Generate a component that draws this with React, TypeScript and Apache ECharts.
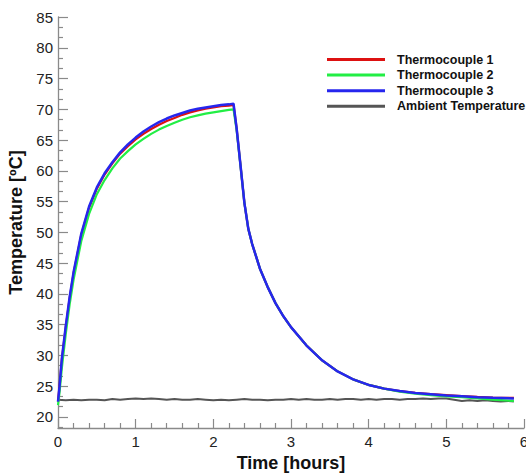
import React, { useEffect, useRef } from "react";
import * as echarts from "echarts";

const timesHours = [
  0, 0.02, 0.05, 0.1, 0.15, 0.2, 0.3, 0.4, 0.5, 0.6, 0.7, 0.8, 0.9, 1.0, 1.1, 1.2, 1.3, 1.4, 1.5, 1.6,
  1.7, 1.8, 1.9, 2.0, 2.1, 2.2, 2.26, 2.3, 2.35, 2.4, 2.45, 2.5, 2.6, 2.7, 2.8, 2.9, 3.0, 3.2, 3.4,
  3.6, 3.8, 4.0, 4.2, 4.4, 4.6, 4.8, 5.0, 5.2, 5.4, 5.6, 5.87,
];

const thermocouple1 = [
  22.5, 25, 29.4, 34.6, 39.3, 43.3, 49.6, 54.0, 57.1, 59.4, 61.2, 62.8, 64.0, 65.1, 66.0, 66.8, 67.5,
  68.1, 68.6, 69.1, 69.5, 69.8, 70.1, 70.3, 70.5, 70.6, 70.7, 66.9, 60.9, 54.8, 50.6, 48.1, 44.1, 41.1,
  38.5, 36.4, 34.6, 31.6, 29.2, 27.4, 26.1, 25.2, 24.6, 24.2, 23.9, 23.7, 23.55, 23.4, 23.25, 23.15,
  23.1,
];

const thermocouple2 = [
  21.9, 24, 28.0, 33.5, 38.3, 42.3, 48.6, 53.0, 56.2, 58.5, 60.4, 62.0, 63.2, 64.3, 65.2, 66.0, 66.7,
  67.3, 67.8, 68.3, 68.7, 69.0, 69.3, 69.5, 69.7, 69.9, 70.0, 66.6, 60.8, 54.8, 50.6, 48.1, 44.1, 41.1,
  38.5, 36.4, 34.6, 31.6, 29.2, 27.4, 26.1, 25.2, 24.6, 24.1, 23.8, 23.55, 23.35, 23.2, 23.0, 22.8,
  22.6,
];

const thermocouple3 = [
  22.5, 25, 29.5, 34.8, 39.5, 43.5, 49.8, 54.2, 57.3, 59.6, 61.4, 63.0, 64.3, 65.4, 66.4, 67.2, 67.9,
  68.5, 69.0, 69.4, 69.8, 70.1, 70.3, 70.5, 70.7, 70.8, 70.9, 66.9, 60.9, 54.8, 50.6, 48.1, 44.1, 41.1,
  38.5, 36.4, 34.6, 31.6, 29.2, 27.4, 26.1, 25.2, 24.6, 24.2, 23.9, 23.7, 23.5, 23.35, 23.2, 23.1,
  23.0,
];

const ambientTimes = [
  0, 0.1, 0.2, 0.3, 0.4, 0.5, 0.6, 0.7, 0.8, 0.9, 1.0, 1.1, 1.2, 1.3, 1.4, 1.5, 1.6, 1.7, 1.8, 1.9,
  2.0, 2.1, 2.2, 2.3, 2.4, 2.5, 2.6, 2.7, 2.8, 2.9, 3.0, 3.1, 3.2, 3.3, 3.4, 3.5, 3.6, 3.7, 3.8, 3.9,
  4.0, 4.1, 4.2, 4.3, 4.4, 4.5, 4.6, 4.7, 4.8, 4.9, 5.0, 5.1, 5.2, 5.3, 5.4, 5.5, 5.6, 5.7, 5.8, 5.87,
];

const ambient = [
  22.8, 22.7, 22.8, 22.7, 22.8, 22.8, 22.7, 22.9, 22.8, 22.9, 23.0, 22.9, 23.0, 22.9, 22.8, 22.9, 22.8,
  22.8, 22.9, 22.8, 22.7, 22.8, 22.7, 22.8, 22.9, 22.8, 22.8, 22.7, 22.8, 22.8, 22.9, 22.8, 22.9, 22.8,
  22.8, 22.9, 22.8, 22.9, 22.9, 22.8, 22.9, 22.8, 22.9, 22.9, 22.8, 22.9, 22.9, 23.0, 22.9, 23.0, 23.0,
  22.8, 22.6, 22.7, 22.6, 22.7, 22.6, 22.5, 22.6, 22.5,
];

const yMajorTicks = [20, 25, 30, 35, 40, 45, 50, 55, 60, 65, 70, 75, 80, 85];
const xMajorTicks = [0, 1, 2, 3, 4, 5, 6];

const seriesNames = ["Thermocouple 1", "Thermocouple 2", "Thermocouple 3", "Ambient Temperature"];
const seriesColors = ["#dd1111", "#22ee44", "#2626ee", "#555555"];

const pair = (xs: number[], ys: number[]) => xs.map((x, i) => [x, ys[i]]);

export default function App() {
  const ref = useRef<HTMLDivElement>(null);
  useEffect(() => {
    if (!ref.current) return;
    const chart = echarts.init(ref.current, null, { renderer: "svg" });
    const font = "'Liberation Sans', Arial, Helvetica, sans-serif";
    const axisGray = "#8a8a8a";
    const yMin = 18.2;
    const yMax = 85;
    const yMinor: number[] = [20 - 5 / 3];
    yMajorTicks.slice(0, -1).forEach((m) => {
      yMinor.push(m + 5 / 3, m + 10 / 3);
    });
    chart.setOption({
      animation: false,
      textStyle: { fontFamily: font },
      grid: { left: 58, top: 17, right: 2, bottom: 45, containLabel: false, outerBoundsMode: "none" },
      legend: {
        orient: "vertical",
        left: 327,
        top: 52,
        padding: 0,
        itemWidth: 58,
        itemHeight: 3,
        itemGap: 0.6,
        icon: "rect",
        data: seriesNames,
        textStyle: {
          fontFamily: font,
          fontWeight: "bold",
          fontSize: 12.5,
          color: "#111",
          lineHeight: 15,
          padding: [0, 0, 0, 7],
        },
      },
      xAxis: {
        type: "value",
        min: 0,
        max: 6,
        interval: 1,
        name: "Time [hours]",
        nameLocation: "middle",
        nameGap: 23,
        nameTextStyle: { fontFamily: font, fontWeight: "bold", fontSize: 18, color: "#111" },
        axisLine: { lineStyle: { color: axisGray, width: 1.3 } },
        axisTick: { inside: true, length: 9, lineStyle: { color: axisGray, width: 1.2 } },
        minorTick: { show: true, splitNumber: 5, length: 5, lineStyle: { color: axisGray, width: 1.2 } },
        axisLabel: { fontFamily: font, fontSize: 15, color: "#222", margin: 6, customValues: xMajorTicks },
        splitLine: { show: false },
      },
      yAxis: [
        {
          type: "value",
          min: yMin,
          max: yMax,
          position: "left",
          name: "Temperature [ºC]",
          nameLocation: "middle",
          nameGap: 32,
          nameTextStyle: { fontFamily: font, fontWeight: "bold", fontSize: 18, color: "#111" },
          axisLine: { show: true, lineStyle: { color: axisGray, width: 1.3 } },
          axisTick: {
            show: true,
            inside: true,
            length: 10,
            customValues: yMajorTicks,
            lineStyle: { color: axisGray, width: 1.2 },
          },
          axisLabel: {
            fontFamily: font,
            fontSize: 15,
            color: "#222",
            margin: 5,
            customValues: yMajorTicks,
          },
          splitLine: { show: false },
        },
        {
          type: "value",
          min: yMin,
          max: yMax,
          position: "left",
          offset: 0,
          axisLine: { show: false },
          axisTick: {
            show: true,
            inside: true,
            length: 5,
            customValues: yMinor,
            lineStyle: { color: axisGray, width: 1.2 },
          },
          axisLabel: { show: false },
          splitLine: { show: false },
        },
      ],
      series: [
        {
          name: seriesNames[0],
          type: "line",
          data: pair(timesHours, thermocouple1),
          showSymbol: false,
          lineStyle: { width: 2.2, color: seriesColors[0] },
          itemStyle: { color: seriesColors[0] },
          z: 3,
        },
        {
          name: seriesNames[1],
          type: "line",
          data: pair(timesHours, thermocouple2),
          showSymbol: false,
          lineStyle: { width: 2.2, color: seriesColors[1] },
          itemStyle: { color: seriesColors[1] },
          z: 3,
        },
        {
          name: seriesNames[2],
          type: "line",
          data: pair(timesHours, thermocouple3),
          showSymbol: false,
          lineStyle: { width: 2.5, color: seriesColors[2] },
          itemStyle: { color: seriesColors[2] },
          z: 4,
        },
        {
          name: seriesNames[3],
          type: "line",
          data: pair(ambientTimes, ambient),
          showSymbol: false,
          lineStyle: { width: 2, color: seriesColors[3] },
          itemStyle: { color: seriesColors[3] },
          z: 2,
        },
      ],
    });
    return () => chart.dispose();
  }, []);
  return <div ref={ref} style={{ width: 526, height: 473, position: "absolute", left: 0, top: 0 }} />;
}
